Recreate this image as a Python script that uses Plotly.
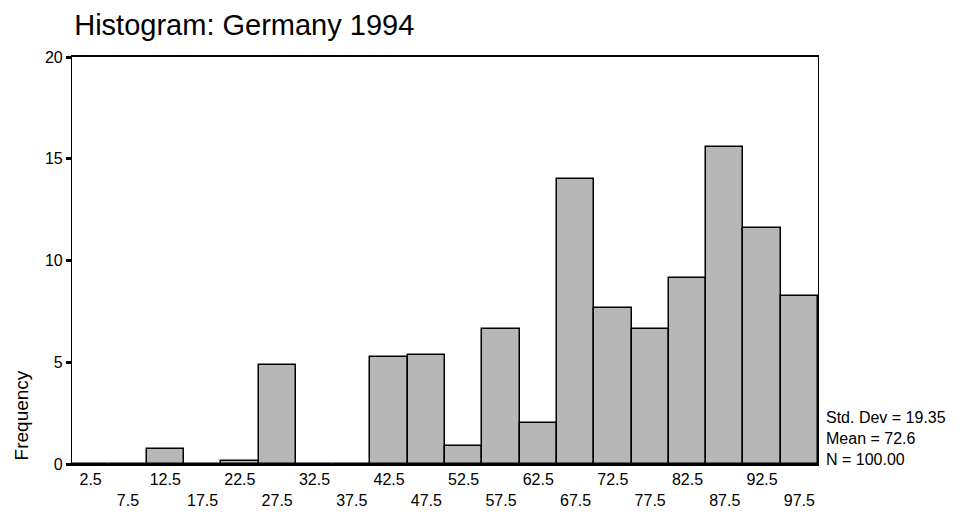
import plotly.graph_objects as go

# Bin midpoints (width 5) and frequencies
midpoints = [2.5, 7.5, 12.5, 17.5, 22.5, 27.5, 32.5, 37.5, 42.5, 47.5,
             52.5, 57.5, 62.5, 67.5, 72.5, 77.5, 82.5, 87.5, 92.5, 97.5]
frequencies = [0, 0, 0.72, 0, 0.16, 4.85, 0, 0, 5.27, 5.34,
               0.88, 6.62, 2.0, 14.0, 7.68, 6.62, 9.12, 15.56, 11.61, 8.27]
y_ticks = [0, 5, 10, 15, 20]
stats_lines = ["Std. Dev = 19.35", "Mean = 72.6", "N = 100.00"]

# Staggered tick labels: every second one goes on a second line
tick_labels = []
for i, m in enumerate(midpoints):
    if i % 2 == 0:
        tick_labels.append(f"{m}")
    else:
        tick_labels.append(f"<br>{m}")

font = "Liberation Sans, Arial, sans-serif"

fig = go.Figure()
fig.add_trace(go.Bar(
    x=midpoints, y=frequencies, width=5,
    marker=dict(color="#b7b7b7", line=dict(color="black", width=1.5)),
))

# page body adds an 8px offset, margins are reduced to compensate
fig.update_layout(
    width=960, height=518,
    margin=dict(l=64, r=150, t=49, b=62),
    plot_bgcolor="white", paper_bgcolor="white",
    showlegend=False, bargap=0,
    title=dict(text="Histogram: Germany 1994", x=0.069, xanchor="left",
               y=0.968, yanchor="middle",
               font=dict(family=font, size=29, color="black")),
    font=dict(family=font, color="black"),
)
fig.update_xaxes(
    range=[0, 100], tickvals=midpoints, ticktext=tick_labels,
    ticks="", showgrid=False, zeroline=False,
    showline=True, linecolor="black", linewidth=1.5, mirror=True,
    tickfont=dict(size=16), tickangle=0,
)
fig.update_yaxes(
    range=[0, 20], tickvals=y_ticks, ticks="outside", ticklen=5,
    tickwidth=3, tickcolor="black", showgrid=False, zeroline=False,
    showline=True, linecolor="black", linewidth=1.2, mirror=True,
    tickfont=dict(size=16),
)

fig.add_annotation(
    text="Frequency", xref="paper", yref="paper", x=-0.068, y=0.12,
    xanchor="center", yanchor="middle", textangle=-90, showarrow=False,
    font=dict(family=font, size=19, color="black"),
)
fig.add_annotation(
    text="<br>".join(stats_lines), xref="paper", yref="paper",
    x=1.008, y=-0.014, xanchor="left", yanchor="bottom", align="left",
    showarrow=False, font=dict(family=font, size=16, color="black"),
)

fig.write_html("out.html")
